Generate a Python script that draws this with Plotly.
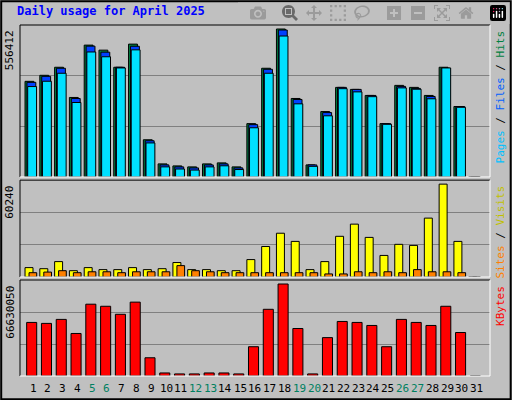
import plotly.graph_objects as go

days = list(range(1, 32))
weekend = [5, 6, 12, 13, 19, 20, 26, 27]

hits = [359600, 382300, 412600, 299000, 495800, 476900, 412600, 499600, 140000, 49200,
        41600, 37900, 49200, 53000, 37900, 200600, 408800, 556412, 295200, 45400,
        246000, 336900, 329300, 306600, 200600, 344400, 336900, 306600, 412600, 265000, 0]
files = [355800, 378500, 408800, 295200, 492000, 469300, 412600, 491500, 136200, 45400,
         37900, 34100, 45400, 49200, 34100, 196800, 405000, 552600, 291400, 45400,
         242200, 336900, 329300, 306600, 200600, 340600, 333100, 302800, 408800, 265000, 0]
pages = [340000, 360000, 390000, 280000, 470000, 452000, 410000, 478000, 128000, 38000,
         30000, 26000, 38000, 42000, 28000, 185000, 390000, 530000, 275000, 40000,
         230000, 332000, 320000, 302000, 198000, 335000, 330000, 294000, 410000, 262000, 0]

visits = [6100, 5400, 10000, 4100, 6100, 4800, 4800, 6100, 4800, 5400,
          9400, 4800, 4800, 4100, 4100, 11300, 19800, 28400, 23100, 4800,
          10000, 26400, 34300, 25700, 14000, 21200, 20500, 38200, 60240, 23100, 0]
sites = [2800, 3200, 4100, 2800, 3400, 3400, 2800, 3400, 3400, 3400,
         7400, 4100, 3400, 2800, 2800, 2800, 2800, 2800, 2800, 2800,
         2000, 2000, 3400, 2800, 3400, 2800, 4800, 3400, 3400, 2800, 0]

kbytes = [38.8e6, 38.1e6, 41.0e6, 30.8e6, 52.0e6, 50.5e6, 44.7e6, 53.5e6, 13.2e6, 2.2e6,
          1.5e6, 1.5e6, 2.2e6, 2.2e6, 1.5e6, 21.2e6, 48.3e6, 66630050, 34.4e6, 1.5e6,
          27.8e6, 39.5e6, 38.8e6, 36.6e6, 21.2e6, 41.0e6, 38.8e6, 36.6e6, 50.5e6, 31.5e6, 0]

GRAY = "#C0C0C0"
line = dict(color="black", width=1)
fig = go.Figure()

def bar(y, color, off, w, ya):
    fig.add_trace(go.Bar(x=days, y=y, marker=dict(color=color, line=line),
                         offset=off, width=w, yaxis=ya, xaxis="x", hoverinfo="skip"))

bar(hits, "#008040", -0.54, 0.6, "y")
bar(files, "#0040FF", -0.41, 0.6, "y")
bar(pages, "#00E0FF", -0.36, 0.6, "y")
bar(visits, "#FFFF00", -0.54, 0.54, "y2")
bar(sites, "#FF8000", -0.27, 0.52, "y2")
bar(kbytes, "#FF0000", -0.43, 0.68, "y3")

tops = [max(hits) * 152 / 148, max(visits) * 97 / 93, max(kbytes) * 96 / 92]
doms = [[0.567, 1], [0.282, 0.558], [0, 0.2735]]
axes = {}
for i, (top, dom) in enumerate(zip(tops, doms)):
    name = "yaxis" if i == 0 else f"yaxis{i+1}"
    axes[name] = dict(domain=dom, range=[0, top], tickvals=[top / 3, 2 * top / 3],
                      showticklabels=False, gridcolor="#808080", gridwidth=1,
                      zeroline=False, fixedrange=True, anchor="x")

fig.update_layout(
    width=512, height=400, paper_bgcolor=GRAY, plot_bgcolor=GRAY,
    margin=dict(l=20, r=22, t=25, b=24), showlegend=False, barmode="overlay",
    xaxis=dict(range=[0.12, 31.9], showticklabels=False, showgrid=False, zeroline=False),
    **axes,
)

# panel frames
for dom in doms:
    y0, y1 = dom
    fig.add_shape(type="line", xref="paper", yref="paper", x0=0, x1=0, y0=y0, y1=y1, line=dict(color="black", width=1))
    fig.add_shape(type="line", xref="paper", yref="paper", x0=0, x1=1, y0=y1, y1=y1, line=dict(color="black", width=1))
    fig.add_shape(type="line", xref="paper", yref="paper", x0=1, x1=1, y0=y0, y1=y1, line=dict(color="white", width=1))
    fig.add_shape(type="line", xref="paper", yref="paper", x0=0, x1=1, y0=y0, y1=y0, line=dict(color="white", width=1))

# outer border
fig.add_shape(type="rect", xref="paper", yref="paper", x0=-0.040, x1=1.044, y0=-0.066, y1=1.068,
              line=dict(color="black", width=2))

mono = "DejaVu Sans Mono"
fig.add_annotation(text="<b>Daily usage for April 2025</b>", xref="paper", yref="paper",
                   x=-0.01, y=1.066, xanchor="left", yanchor="top", showarrow=False,
                   font=dict(family=mono, size=12, color="#0000FF"))

maxlabels = ["556412", "60240", "66630050"]
for lab, dom in zip(maxlabels, doms):
    fig.add_annotation(text=lab, xref="paper", yref="paper", x=-0.004, y=dom[1] - 0.01,
                       xanchor="right", yanchor="top", textangle=-90, showarrow=False,
                       font=dict(family=mono, size=11, color="black"))

legends = [
    "<span style='color:#00C0FF'>Pages</span> / <span style='color:#0060FF'>Files</span> / <span style='color:#008040'>Hits</span>",
    "<span style='color:#FF8000'>Sites</span> / <span style='color:#C0C000'>Visits</span>",
    "<span style='color:#FF0000'>KBytes</span>",
]
for lab, dom in zip(legends, doms):
    fig.add_annotation(text=lab, xref="paper", yref="paper", x=1.004, y=dom[1] - 0.01,
                       xanchor="left", yanchor="top", textangle=-90, showarrow=False,
                       font=dict(family=mono, size=11, color="black"))

for d in days:
    fig.add_annotation(text=str(d), x=d, xref="x", yref="paper", y=-0.012, yanchor="top",
                       showarrow=False,
                       font=dict(family=mono, size=11, color="#008060" if d in weekend else "black"))

fig.write_html("out.html",
               post_script="document.body.style.margin='0';document.body.style.overflow='hidden';")
